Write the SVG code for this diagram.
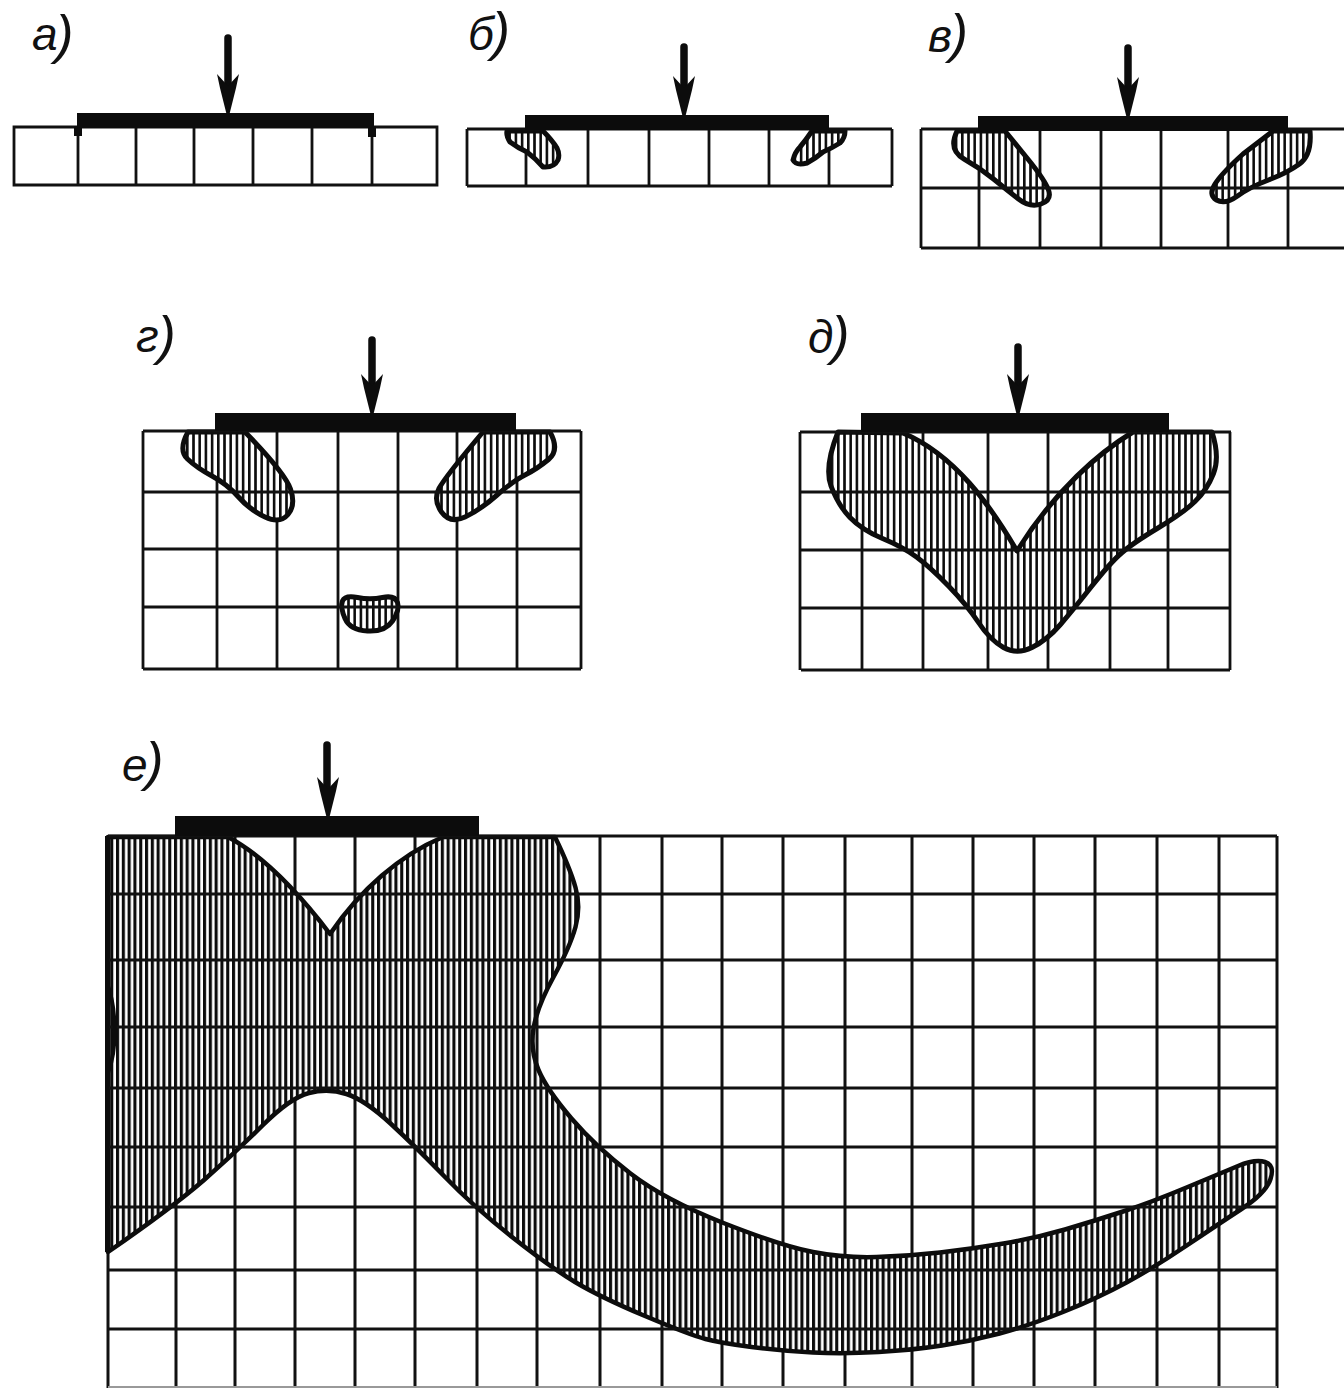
<svg xmlns="http://www.w3.org/2000/svg" width="1344" height="1388" viewBox="0 0 1344 1388">
<style>
.g{fill:none;stroke:#111;stroke-width:2.8}
.ge{fill:none;stroke:#111;stroke-width:3}
.p{fill:#0c0c0c}
.h{fill:url(#hatch);stroke:#0c0c0c;stroke-width:5;stroke-linejoin:round}
.he{fill:url(#hatchE);stroke:#0c0c0c;stroke-width:4.5;stroke-linejoin:round}
.o{fill:none;stroke:#0c0c0c;stroke-width:4;stroke-linecap:round}
.shaft{stroke:#0c0c0c;stroke-width:7.5;stroke-linecap:round;fill:none}
.l{font-family:"Liberation Sans",Arial,sans-serif;font-style:italic;font-size:46px;fill:#111}
.b{font-size:54px}
</style>
<defs>
<pattern id="hatch" patternUnits="userSpaceOnUse" width="6.2" height="10"><rect width="6.2" height="10" fill="#fff"/><rect width="2.6" height="10" fill="#0c0c0c"/></pattern>
<pattern id="hatchE" patternUnits="userSpaceOnUse" width="5.8" height="10"><rect width="5.8" height="10" fill="#fff"/><rect width="3.1" height="10" fill="#0c0c0c"/></pattern>
<path id="ah" class="p" d="M-11 -40 L0 -28 L11 -40 L8 -26 L1.5 0 L-1.5 0 L-8 -26 Z"/>
</defs>
<rect width="1344" height="1388" fill="#fff"/>

<g id="panel-a">
<path class="g" d="M14 127H437V185H14ZM78 127V185M136 127V185M194 127V185M253 127V185M312 127V185M372 127V185"/>
<rect class="p" x="77" y="113" width="297" height="15"/>
<rect class="p" x="74" y="126" width="8" height="10"/><rect class="p" x="368" y="126" width="8" height="11"/>
<path class="shaft" d="M228 38V90"/><use href="#ah" x="228" y="114"/>
<text class="l" x="32" y="50">а<tspan class="b" dx="-2" dy="3">)</tspan></text>
</g>

<g id="panel-b">
<path class="g" d="M467 129V186M892 129V186M526 129V186M588 129V186M649 129V186M709 129V186M769 129V186M829 129V186"/>
<path class="h" d="M507 131Q506 136 510 142Q518 148 527 152Q535 158 543 167Q554 168 558 160Q560 154 557 148Q552 140 543 131Z"/>
<path class="h" d="M845 131Q845 138 840 143Q832 148 823 152Q816 158 807 163Q796 166 793 160Q795 152 800 147Q806 140 812 131Z"/>
<path class="g" d="M467 129H892M467 186H892"/>
<rect class="p" x="525" y="115" width="304" height="15"/>
<path class="shaft" d="M684 47V92"/><use href="#ah" x="684" y="116"/>
<text class="l" x="468" y="50">б<tspan class="b" dx="-2" dy="0">)</tspan></text>
</g>

<g id="panel-v">
<path class="g" d="M921 129V248M979 129V248M1040 129V248M1101 129V248M1161 129V248M1228 129V248M1288 129V248"/>
<path class="h" d="M957 131Q948 150 964 159Q980 168 993.5 179Q1007 190 1018.5 199Q1030 208 1041 204Q1052 200 1048.5 190Q1045 180 1027 158L1005 131Z"/>
<path class="h" d="M1310 131Q1312 155 1299.5 164Q1287 173 1268.5 180Q1250 187 1237.5 196Q1225 205 1216.5 200Q1208 195 1215 184Q1222 173 1243 154L1273 131Z"/>
<path class="g" d="M921 129H1346M921 188H1346M921 248H1346"/>
<rect class="p" x="978" y="116" width="310" height="15"/>
<path class="shaft" d="M1128 48V93"/><use href="#ah" x="1128" y="117"/>
<text class="l" x="928" y="52">в<tspan class="b" dx="-2" dy="0">)</tspan></text>
</g>

<g id="panel-g">
<path class="g" d="M143 431V669M581 431V669M217 431V669M277 431V669M338 431V669M398 431V669M457 431V669M517 431V669"/>
<path class="h" d="M188 432Q178 450 187.5 459Q197 468 212 476Q227 484 238.5 497Q250 510 265 517Q280 524 288 514.5Q296 505 290.5 489Q285 473 245 432Z"/>
<path class="h" d="M550 432Q560 450 548.5 459.5Q537 469 525 475Q513 481 496.5 495.5Q480 510 465 517Q450 524 441.5 512Q433 500 439 488.5Q445 477 483 432Z"/>
<path class="h" d="M342.5 601Q345 595 357.5 597.5Q370 600 382.5 597.5Q395 595 397.5 602.5Q400 610 392.5 621Q385 632 367.5 631Q350 630 345 618.5Q340 607 342.5 601Z"/>
<path class="g" d="M143 431H581M143 492H581M143 549H581M143 607H581M143 669H581"/>
<rect class="p" x="215" y="413" width="301" height="18"/>
<path class="shaft" d="M372 340V390"/><use href="#ah" x="372" y="414"/>
<text class="l" x="136" y="352">г<tspan class="b" dx="-1" dy="2">)</tspan></text>
</g>

<g id="panel-d">
<path class="g" d="M800 432V670M1230 432V670M862 432V670M923 432V670M988 432V670M1048 432V670M1110 432V670M1168 432V670"/>
<path class="h" d="M838 432Q824 467 831 486Q838 505 850 517.5Q862 530 882.5 538.5Q903 547 916.5 557Q930 567 948.5 586Q967 605 978.5 622.5Q990 640 1003.5 647.5Q1017 655 1032 647.5Q1047 640 1060 625Q1073 610 1091.5 586.5Q1110 563 1121.5 553Q1133 543 1158 528Q1183 513 1195 501.5Q1207 490 1213.5 473.5Q1220 457 1212 432L1133 432C1100 452 1055 490 1017 551C990 505 955 455 903 433Z"/>
<path class="g" d="M800 432H1231M801 492H1231M801 550H1231M801 608H1231M801 670H1230"/>
<rect class="p" x="861" y="413" width="308" height="19"/>
<path class="shaft" d="M1018 347V390"/><use href="#ah" x="1018" y="414"/>
<text class="l" x="808" y="353">д<tspan class="b" dx="-2" dy="1">)</tspan></text>
</g>

<g id="panel-e">
<path class="ge" d="M108 836V1388M1277 836V1388M176 836V1388M235 836V1388M295 836V1388M355 836V1388M415 836V1388M477 836V1388M537 836V1388M600 836V1388M662 836V1388M722 836V1388M783 836V1388M845 836V1388M912 836V1388M973 836V1388M1034 836V1388M1095 836V1388M1157 836V1388M1219 836V1388"/>
<path class="he" d="M108 837L228 837C262 855 298 892 330 934C360 890 400 855 443 837L555 837Q570 868 575.5 887.5Q581 907 575.5 927Q570 947 553.5 977Q537 1007 533.5 1028.5Q530 1050 538.5 1070Q547 1090 571.5 1118.5Q596 1147 630.5 1173.5Q665 1200 723.5 1223Q782 1246 813 1252Q844 1258 876.5 1257Q909 1256 940 1252.5Q971 1249 1003.5 1243.5Q1036 1238 1065 1229.5Q1094 1221 1123 1211.5Q1152 1202 1186.5 1187.5Q1221 1173 1238 1166Q1255 1159 1265 1162Q1275 1165 1270.5 1179Q1266 1193 1241.5 1209Q1217 1225 1186 1246Q1155 1267 1126.5 1282.5Q1098 1298 1063 1312Q1028 1326 999.5 1333.5Q971 1341 942 1345.5Q913 1350 878.5 1352Q844 1354 813 1352.5Q782 1351 751.5 1347Q721 1343 705.5 1339Q690 1335 645 1316Q600 1297 575 1282Q550 1267 512 1237Q474 1207 445 1177Q416 1147 390.5 1123.5Q365 1100 346.5 1094Q328 1088 309 1093Q290 1098 262.5 1125.5Q235 1153 204 1180Q173 1207 108 1252Z"/>
<path class="ge" d="M108 836H1277M108 894H1277M108 960H1277M108 1027H1277M108 1088H1277M108 1147H1277M108 1207H1277M108 1270H1277M108 1329H1277"/>
<path d="M108 1387H1277" fill="none" stroke="#999" stroke-width="2"/>
<path class="o" d="M107 983C116 1007 118 1047 108 1073"/>
<rect class="p" x="175" y="816" width="304" height="20"/>
<rect class="p" x="105" y="836" width="4" height="416"/>
<path class="shaft" d="M327 745V792"/><use href="#ah" x="328" y="817"/>
<text class="l" x="122" y="781">е<tspan class="b" dx="-2" dy="-1">)</tspan></text>
</g>
</svg>
